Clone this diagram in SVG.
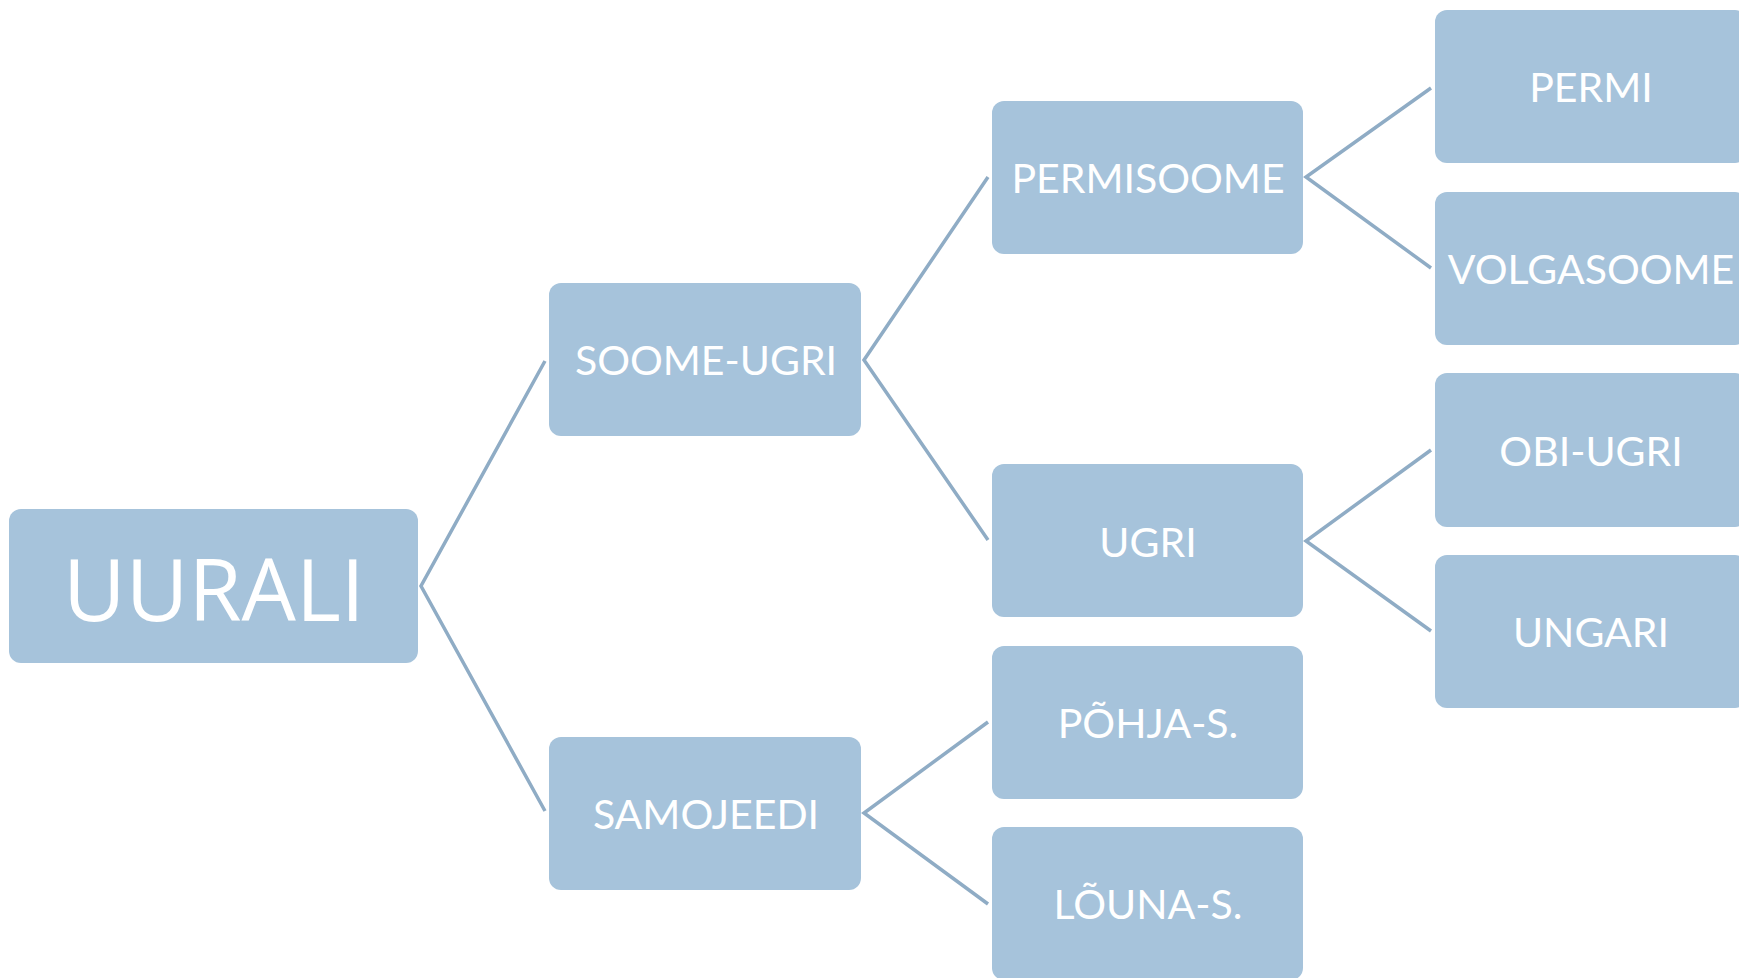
<svg xmlns="http://www.w3.org/2000/svg" width="1739" height="978" viewBox="0 0 1739 978">
<style>
.box{fill:#A6C3DB;}
.t{fill:#FFFFFF;font-family:Lato,"Open Sans",sans-serif;font-size:41px;text-anchor:middle;}
.big{font-family:"Open Sans","Liberation Sans",sans-serif;font-size:86px;}
.c{fill:none;stroke:#8FACC5;stroke-width:3.5;stroke-linejoin:miter;}
</style>
<rect x="0" y="0" width="1739" height="978" fill="#FFFFFF"/>
<g id="connectors">
<polyline class="c" points="545,361 421,586 545,811"/>
<polyline class="c" points="988,177 864,360 988,540"/>
<polyline class="c" points="988,722 864,813 988,904"/>
<polyline class="c" points="1431,88 1306,177 1431,268"/>
<polyline class="c" points="1431,450 1306,541 1431,631"/>
</g>
<g id="uurali"><rect class="box" x="9" y="509" width="409" height="154" rx="12"/><text class="t big" x="214" y="621">UURALI</text></g>
<g id="soome-ugri"><rect class="box" x="549" y="283" width="312" height="153" rx="12"/><text class="t" x="706" y="375">SOOME-UGRI</text></g>
<g id="samojeedi"><rect class="box" x="549" y="737" width="312" height="153" rx="12"/><text class="t" x="706" y="829">SAMOJEEDI</text></g>
<g id="permisoome"><rect class="box" x="992" y="101" width="311" height="153" rx="12"/><text class="t" x="1148" y="193">PERMISOOME</text></g>
<g id="ugri"><rect class="box" x="992" y="464" width="311" height="153" rx="12"/><text class="t" x="1148" y="557">UGRI</text></g>
<g id="pohja-s"><rect class="box" x="992" y="646" width="311" height="153" rx="12"/><text class="t" x="1148" y="738">PÕHJA-S.</text></g>
<g id="louna-s"><rect class="box" x="992" y="827" width="311" height="153" rx="12"/><text class="t" x="1148" y="919">LÕUNA-S.</text></g>
<g id="permi"><rect class="box" x="1435" y="10" width="312" height="153" rx="12"/><text class="t" x="1591" y="102">PERMI</text></g>
<g id="volgasoome"><rect class="box" x="1435" y="192" width="312" height="153" rx="12"/><text class="t" x="1591" y="284">VOLGASOOME</text></g>
<g id="obi-ugri"><rect class="box" x="1435" y="373" width="312" height="154" rx="12"/><text class="t" x="1591" y="466">OBI-UGRI</text></g>
<g id="ungari"><rect class="box" x="1435" y="555" width="312" height="153" rx="12"/><text class="t" x="1591" y="647">UNGARI</text></g>
</svg>
